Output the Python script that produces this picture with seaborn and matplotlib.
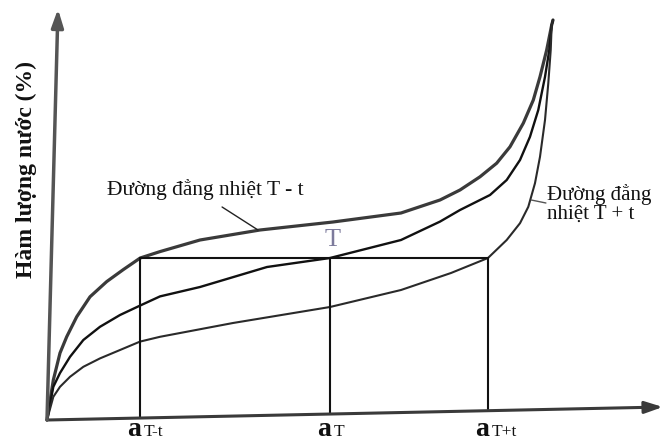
import matplotlib
matplotlib.use("Agg")
import matplotlib.pyplot as plt
import seaborn as sns
import pandas as pd

# ---- data (water activity, moisture %) ----
aw_low = [0.0, 0.0125, 0.0257, 0.0389, 0.0587, 0.0850, 0.1180, 0.1508, 0.1842, 0.2233, 0.3024, 0.4209,
          0.5652, 0.6996, 0.7767, 0.8162, 0.8557, 0.8887, 0.9150, 0.9413, 0.9611, 0.9743, 0.9875, 0.9974, 1.0]
m_low = [0.0, 10.0, 16.75, 20.8, 25.8, 30.8, 34.6, 37.6, 40.5, 42.1, 45.0, 47.5,
         49.5, 51.75, 55.0, 57.5, 60.8, 64.2, 68.3, 74.2, 80.0, 85.8, 92.5, 98.75, 100.0]

aw_mid = [0.0, 0.0125, 0.0257, 0.0455, 0.0718, 0.1047, 0.1443, 0.1838, 0.2233, 0.3024, 0.4348, 0.5593,
          0.6996, 0.7767, 0.8162, 0.8755, 0.9085, 0.9348, 0.9545, 0.9709, 0.9842, 0.9927, 0.9974, 1.0]
m_mid = [0.0, 8.3, 11.75, 15.8, 20.0, 23.3, 26.25, 28.6, 30.9, 33.25, 38.25, 40.5,
         45.0, 49.6, 52.5, 56.25, 60.0, 65.0, 70.8, 77.5, 85.8, 92.5, 98.75, 100.0]

aw_high = [0.0, 0.0125, 0.0257, 0.0455, 0.0718, 0.1047, 0.1443, 0.1838, 0.2233, 0.3676, 0.5593, 0.6996,
           0.7984, 0.8715, 0.9085, 0.9348, 0.9512, 0.9644, 0.9743, 0.9842, 0.9907, 0.9955, 0.9974, 1.0]
m_high = [0.0, 5.8, 8.3, 10.8, 13.3, 15.4, 17.5, 19.6, 20.8, 24.25, 28.25, 32.5,
          36.75, 40.5, 45.0, 49.2, 53.3, 59.2, 65.8, 75.0, 84.2, 92.5, 98.75, 100.0]

series_names = ["T - t", "T", "T + t"]

# constant moisture level and the three activities
m_const = 40.5
aw_marks = [0.1842, 0.5593, 0.8715]
axis_base = [0.5, 1.75, 2.75]   # where the verticals meet the (tilted) x axis
mark_subs = ["T-t", "T", "T+t"]

ylabel = "Hàm lượng nước (%)"
label_low = "Đường đẳng nhiệt T - t"
label_high = "Đường đẳng\nnhiệt T + t"
label_mid = "T"

df = pd.concat([
    pd.DataFrame({"aw": aw_low, "m": m_low, "s": series_names[0]}),
    pd.DataFrame({"aw": aw_mid, "m": m_mid, "s": series_names[1]}),
    pd.DataFrame({"aw": aw_high, "m": m_high, "s": series_names[2]}),
], ignore_index=True)

sns.set_theme(style="white")
plt.rcParams["font.family"] = ["Liberation Serif", "DejaVu Serif"]

fig = plt.figure(figsize=(6.68, 4.45), dpi=100)
ax = fig.add_axes([0, 0, 1, 1])

sns.lineplot(data=df, x="aw", y="m", hue="s", size="s",
             sizes={series_names[0]: 2.3, series_names[1]: 1.7, series_names[2]: 1.5},
             palette={series_names[0]: "#3a3a3a", series_names[1]: "#111111", series_names[2]: "#2a2a2a"},
             sort=False, estimator=None, legend=False, ax=ax)
for ln in ax.lines:
    ln.set_solid_joinstyle("round")
    ln.set_solid_capstyle("round")

# rectangle lines
ax.plot([aw_marks[0], aw_marks[2]], [m_const, m_const], color="#111111", lw=1.5)
for xv, yb in zip(aw_marks, axis_base):
    ax.plot([xv, xv], [m_const, yb], color="#111111", lw=1.5)

# axes with arrows
ax.annotate("", xy=(1.217, 3.25), xytext=(0, 0),
            arrowprops=dict(arrowstyle="-|>,head_length=0.9,head_width=0.3", color="#3a3a3a",
                            lw=2.2, shrinkA=0, shrinkB=0))
ax.annotate("", xy=(0.0217, 102.75), xytext=(0, 0),
            arrowprops=dict(arrowstyle="-|>,head_length=0.9,head_width=0.3", color="#555555",
                            lw=2.5, shrinkA=0, shrinkB=0))

# labels
for xv, sub in zip(aw_marks, mark_subs):
    ax.text(xv + 0.002, -4.0, "a", ha="right", va="baseline", fontsize=20, fontweight="bold", color="#111111")
    ax.text(xv + 0.007, -4.0, sub, ha="left", va="baseline", fontsize=12.5, color="#111111")

ax.text(-0.0415, 62.5, ylabel, rotation=90, ha="center", va="center", fontsize=17,
        fontweight="bold", color="#111111")
ax.text(0.119, 57.5, label_low, ha="left", va="center", fontsize=15.5, color="#111111")
ax.plot([0.346, 0.417], [53.25, 47.5], color="#222222", lw=1.0)
ax.text(0.988, 54.0, label_high, ha="left", va="center", fontsize=15, color="#111111", linespacing=1.0)
ax.plot([0.957, 0.986], [55.0, 54.25], color="#555555", lw=1.0)
ax.text(0.565, 45.0, label_mid, ha="center", va="center", fontsize=19, color="#7d7b9c")

ax.set_xlim(-47 / 506, 621 / 506)
ax.set_ylim(-6.25, 105)
ax.axis("off")
fig.savefig("out.png", dpi=100, facecolor="white")
